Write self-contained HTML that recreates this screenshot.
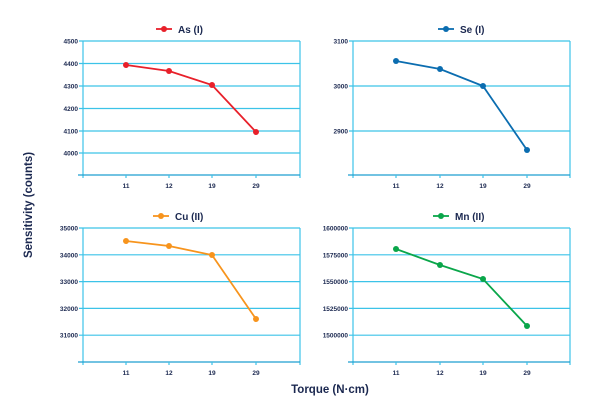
<!DOCTYPE html>
<html><head><style>body{margin:0;background:#fff}svg{display:block}text{font-family:"Liberation Sans",sans-serif;font-weight:bold;fill:#1b2850}</style></head>
<body>
<svg width="600" height="411" viewBox="0 0 600 411" xmlns="http://www.w3.org/2000/svg">
<g stroke="#3cc3e8" stroke-width="1.2" fill="none">
<!-- panel 1 -->
<line x1="83" y1="41" x2="300" y2="41"/><line x1="83" y1="63.5" x2="300" y2="63.5"/><line x1="83" y1="86" x2="300" y2="86"/><line x1="83" y1="108.5" x2="300" y2="108.5"/><line x1="83" y1="131" x2="300" y2="131"/><line x1="83" y1="153" x2="300" y2="153"/>
<line x1="83" y1="41" x2="83" y2="178"/><line x1="300" y1="41" x2="300" y2="178"/><line x1="78" y1="175" x2="300" y2="175" stroke="#1e9fd0"/>
<line x1="126" y1="175" x2="126" y2="178"/><line x1="169" y1="175" x2="169" y2="178"/><line x1="212" y1="175" x2="212" y2="178"/><line x1="256" y1="175" x2="256" y2="178"/>
<!-- panel 2 -->
<line x1="353" y1="41" x2="570" y2="41"/><line x1="353" y1="86" x2="570" y2="86"/><line x1="353" y1="131" x2="570" y2="131"/>
<line x1="353" y1="41" x2="353" y2="178"/><line x1="570" y1="41" x2="570" y2="178"/><line x1="348" y1="175" x2="570" y2="175" stroke="#1e9fd0"/>
<line x1="396" y1="175" x2="396" y2="178"/><line x1="440" y1="175" x2="440" y2="178"/><line x1="483" y1="175" x2="483" y2="178"/><line x1="527" y1="175" x2="527" y2="178"/>
<!-- panel 3 -->
<line x1="83" y1="228" x2="300" y2="228"/><line x1="83" y1="254.8" x2="300" y2="254.8"/><line x1="83" y1="281.6" x2="300" y2="281.6"/><line x1="83" y1="308.4" x2="300" y2="308.4"/><line x1="83" y1="335.2" x2="300" y2="335.2"/>
<line x1="83" y1="228" x2="83" y2="365"/><line x1="300" y1="228" x2="300" y2="365"/><line x1="78" y1="362" x2="300" y2="362" stroke="#1e9fd0"/>
<line x1="126" y1="362" x2="126" y2="365"/><line x1="169" y1="362" x2="169" y2="365"/><line x1="212" y1="362" x2="212" y2="365"/><line x1="256" y1="362" x2="256" y2="365"/>
<!-- panel 4 -->
<line x1="353" y1="228" x2="570" y2="228"/><line x1="353" y1="254.8" x2="570" y2="254.8"/><line x1="353" y1="281.6" x2="570" y2="281.6"/><line x1="353" y1="308.4" x2="570" y2="308.4"/><line x1="353" y1="335.2" x2="570" y2="335.2"/>
<line x1="353" y1="228" x2="353" y2="365"/><line x1="570" y1="228" x2="570" y2="365"/><line x1="348" y1="362" x2="570" y2="362" stroke="#1e9fd0"/>
<line x1="396" y1="362" x2="396" y2="365"/><line x1="440" y1="362" x2="440" y2="365"/><line x1="483" y1="362" x2="483" y2="365"/><line x1="527" y1="362" x2="527" y2="365"/>
<!-- left ticks -->
<path d="M79 41H83M79 63.5H83M79 86H83M79 108.5H83M79 131H83M79 153H83M349 41H353M349 86H353M349 131H353M79 228H83M79 254.8H83M79 281.6H83M79 308.4H83M79 335.2H83M349 228H353M349 254.8H353M349 281.6H353M349 308.4H353M349 335.2H353"/>
</g>
<!-- series -->
<g stroke-width="1.8" fill="none">
<polyline stroke="#e8202a" points="126,65 169,71 212,85 256,132"/>
<polyline stroke="#0b6db0" points="396,61 440,69 483,86 527,150"/>
<polyline stroke="#f7941d" points="126,241 169,246 212,255 256,319"/>
<polyline stroke="#0aa64a" points="396,249 440,265 483,279 527,326"/>
<line x1="156" y1="29" x2="172" y2="29" stroke="#e8202a"/>
<line x1="438" y1="29" x2="454" y2="29" stroke="#0b6db0"/>
<line x1="153" y1="216" x2="169" y2="216" stroke="#f7941d"/>
<line x1="433" y1="216" x2="449" y2="216" stroke="#0aa64a"/>
</g>
<g fill="#e8202a"><circle cx="126" cy="65" r="3"/><circle cx="169" cy="71" r="3"/><circle cx="212" cy="85" r="3"/><circle cx="256" cy="132" r="3"/><circle cx="164" cy="29" r="3"/></g>
<g fill="#0b6db0"><circle cx="396" cy="61" r="3"/><circle cx="440" cy="69" r="3"/><circle cx="483" cy="86" r="3"/><circle cx="527" cy="150" r="3"/><circle cx="446" cy="29" r="3"/></g>
<g fill="#f7941d"><circle cx="126" cy="241" r="3"/><circle cx="169" cy="246" r="3"/><circle cx="212" cy="255" r="3"/><circle cx="256" cy="319" r="3"/><circle cx="161" cy="216" r="3"/></g>
<g fill="#0aa64a"><circle cx="396" cy="249" r="3"/><circle cx="440" cy="265" r="3"/><circle cx="483" cy="279" r="3"/><circle cx="527" cy="326" r="3"/><circle cx="441" cy="216" r="3"/></g>
<!-- legend text -->
<g font-size="10"><text x="178" y="33">As (I)</text><text x="460" y="33">Se (I)</text><text x="175" y="220">Cu (II)</text><text x="455" y="220">Mn (II)</text></g>
<!-- tick labels -->
<g font-size="6.5" text-anchor="end">
<text x="78" y="43.5">4500</text><text x="78" y="66">4400</text><text x="78" y="88.5">4300</text><text x="78" y="111">4200</text><text x="78" y="133.5">4100</text><text x="78" y="155.5">4000</text>
<text x="348" y="43.5">3100</text><text x="348" y="88.5">3000</text><text x="348" y="133.5">2900</text>
<text x="78" y="230.5">35000</text><text x="78" y="257.3">34000</text><text x="78" y="284">33000</text><text x="78" y="311">32000</text><text x="78" y="337.7">31000</text>
<text x="348" y="230.5">1600000</text><text x="348" y="257.3">1575000</text><text x="348" y="284">1550000</text><text x="348" y="311">1525000</text><text x="348" y="337.7">1500000</text>
</g>
<g font-size="6.5" text-anchor="middle">
<text x="126" y="188">11</text><text x="169" y="188">12</text><text x="212" y="188">19</text><text x="256" y="188">29</text>
<text x="396" y="188">11</text><text x="440" y="188">12</text><text x="483" y="188">19</text><text x="527" y="188">29</text>
<text x="126" y="375">11</text><text x="169" y="375">12</text><text x="212" y="375">19</text><text x="256" y="375">29</text>
<text x="396" y="375">11</text><text x="440" y="375">12</text><text x="483" y="375">19</text><text x="527" y="375">29</text>
</g>
<text x="330" y="393" font-size="11.5" text-anchor="middle">Torque (N·cm)</text>
<text transform="translate(32,205) rotate(-90)" font-size="11.5" text-anchor="middle">Sensitivity (counts)</text>
</svg>
</body></html>
